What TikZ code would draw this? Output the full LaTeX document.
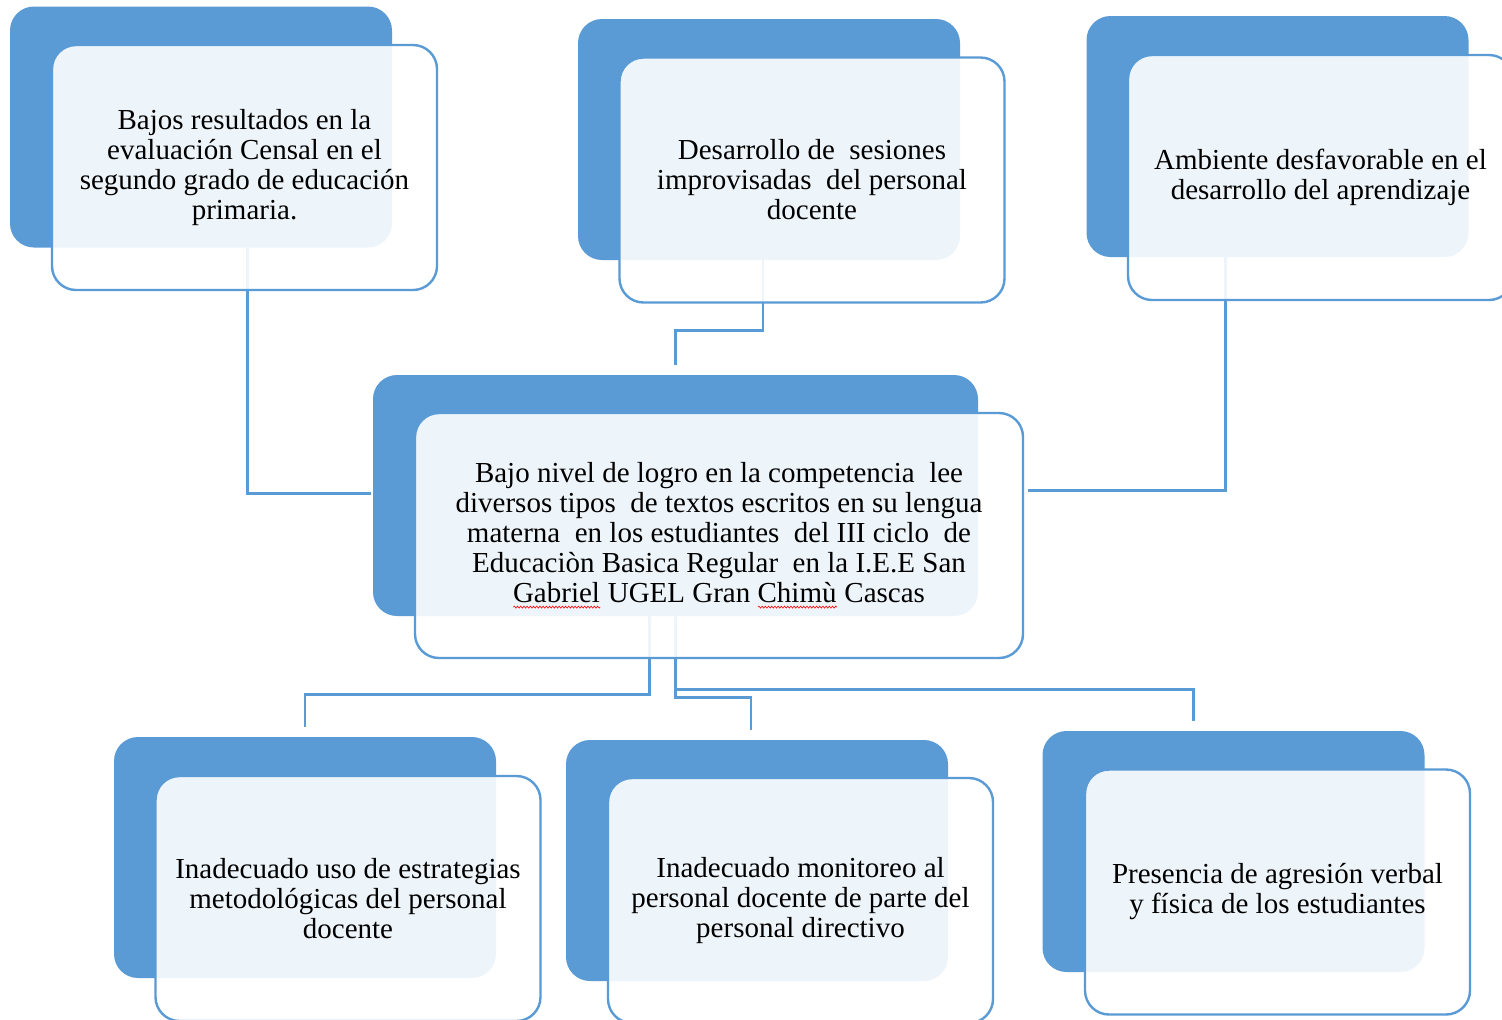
\documentclass[tikz,border=0pt]{standalone}
\usepackage{fontspec}
\setmainfont{Liberation Serif}
\usepackage{tikz}
\usetikzlibrary{calc,backgrounds}
\usetikzlibrary{decorations.pathmorphing}

\definecolor{accent}{HTML}{5B9BD5}

% red spell-check wave under a word
\newsavebox{\errbox}
\newcommand{\errword}[1]{\sbox{\errbox}{#1}\rlap{#1}\tikz[baseline=0pt]\draw[red,line width=0.3pt,rounded corners=0pt,decorate,decoration={snake,amplitude=0.5pt,segment length=1.6pt}] (0pt,-2.2pt) -- (\wd\errbox,-2.2pt);}

\tikzset{
  backbox/.style={fill=accent, rounded corners=12pt, inner sep=0pt,
    minimum width=191pt, minimum height=120.5pt},
  frontbox/.style={draw=accent, line width=1.2pt, fill=white, fill opacity=0.9,
    text opacity=1, rounded corners=12pt, inner sep=0pt,
    minimum width=192.5pt, minimum height=122.5pt,
    align=center, font=\fontsize{14.5}{15}\selectfont},
  link/.style={draw=accent, line width=1.1pt}
}

\begin{document}
\begin{tikzpicture}[x=0.5pt,y=-0.5pt]
			
			\useasboundingbox (0,0) rectangle (1502,1019);
			
			% causes (top row)
			\node[backbox] (b1) at (201,127) {};
			\node[frontbox] (f1) at (244.5,167.5) {Bajos resultados en la\\ evaluación Censal en el\\ segundo grado de educación\\ primaria.};
			
			\node[backbox] (b2) at (769,139.5) {};
			\node[frontbox] (f2) at (812,180) {Desarrollo de \ sesiones\\ improvisadas \ del personal\\ docente};
			
			\node[backbox] (b3) at (1277.5,136.5) {};
			\node[frontbox] (f3) at (1320.5,177.5) {Ambiente desfavorable en el\\ desarrollo del aprendizaje};
			
			% central problem
			\node[backbox, minimum width=302.5pt] (b0) at (675.5,495.5) {};
			\node[frontbox, minimum width=304pt] (f0) at (719,535.5) {Bajo nivel de logro en la competencia \ lee\\ diversos tipos \ de textos escritos en su lengua\\ materna \ en los estudiantes \ del III ciclo \ de\\ Educaciòn Basica Regular \ en la I.E.E San\\ \errword{Gabriel} UGEL Gran \errword{Chimù} Cascas};
			
			% effects (bottom row)
			\node[backbox] (b4) at (305,857.5) {};
			\node[frontbox] (f4) at (348,898.5) {Inadecuado uso de estrategias\\ metodológicas del personal\\ docente};
			
			\node[backbox] (b5) at (757,860.5) {};
			\node[frontbox] (f5) at (800.5,900.5) {Inadecuado monitoreo al\\ personal docente de parte del\\ personal directivo};
			
			\node[backbox] (b6) at (1233.5,851.5) {};
			\node[frontbox] (f6) at (1277.5,892) {Presencia de agresión verbal\\ y física de los estudiantes};
			
			\begin{scope}[on background layer]
			\fill[white] (0,0) rectangle (1502,1019);
			
			\draw[link] ([xshift=1.5pt]f1.center |- b1.south) |- ([xshift=-1pt,yshift=1pt]b0.west);
			\draw[link] ([xshift=-3pt]b2.south) -- ++(0,70) -| ([yshift=5pt]b0.north);
			\draw[link] ([xshift=-26pt]b3.south) |- ([xshift=2pt,yshift=2.5pt]f0.east |- b0.east);
			
			\draw[link] ([xshift=-13pt]b0.south) -- ++(0,78) -| ([yshift=5pt]b4.north);
			\draw[link] (b0.south) -- ++(0,81) -| ([xshift=-3pt,yshift=5pt]b5.north);
			\draw[link] (b0.south) -- ++(0,73) -| ([xshift=-20pt,yshift=5pt]b6.north);
			\end{scope}
			
		\end{tikzpicture}
\end{document}
